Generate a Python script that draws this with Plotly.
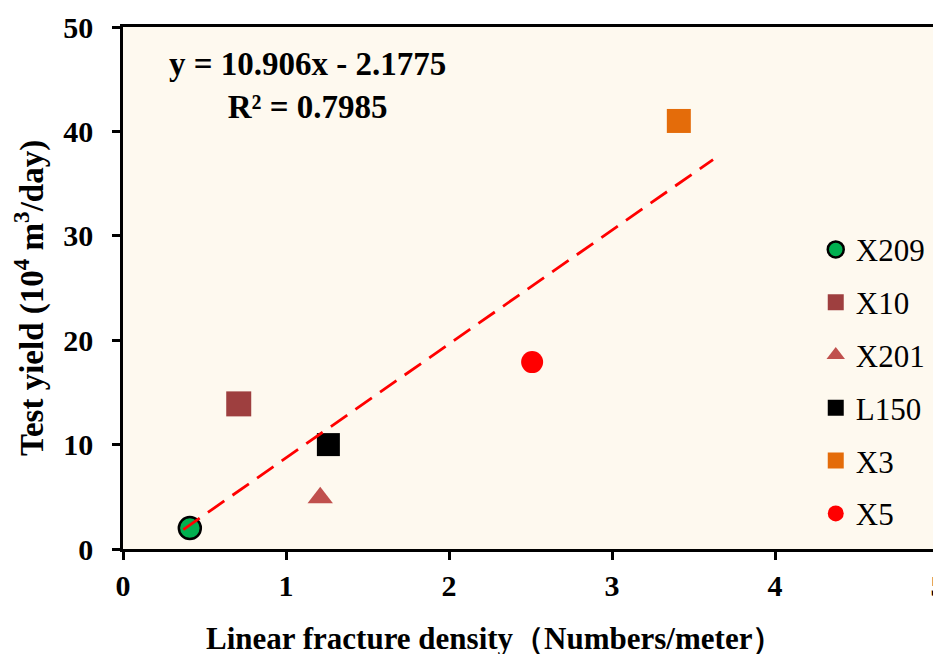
import plotly.graph_objects as go

wells = ["X209", "X10", "X201", "L150", "X3", "X5"]
density = [0.41, 0.71, 1.21, 1.26, 3.41, 2.51]
yield_ = [2.0, 13.9, 4.9, 10.0, 41.0, 17.9]
symbols = ["circle", "square", "triangle-up", "square", "square", "circle"]
colors = ["#00B050", "#9E3F3F", "#C0504D", "#000000", "#E46C0A", "#FF0000"]
sizes = [22, 25, 22, 23, 24, 22]
outline = [2.5, 0, 0, 0, 0, 0]

slope = 10.906
intercept = -2.1775
trend_x = [0.37, 3.62]

x_title = "<b>Linear fracture density（Numbers/meter）</b>"
y_title = "<b>Test yield (10<sup>4</sup> m<sup>3</sup>/day)</b>"
fit_text = "<b>y = 10.906x - 2.1775</b><br><b>R² = 0.7985</b>"

FONT = "Liberation Serif, Times New Roman, serif"

fig = go.Figure()
for i, w in enumerate(wells):
    fig.add_trace(go.Scatter(
        x=[density[i]], y=[yield_[i]], mode="markers", name=w,
        legendgroup=w,
        marker=dict(symbol=symbols[i], color=colors[i], size=sizes[i],
                    line=dict(color="black", width=outline[i])),
    ))

fig.add_trace(go.Scatter(
    x=trend_x, y=[slope * v + intercept for v in trend_x], mode="lines",
    line=dict(color="#FF0000", width=2.8, dash="20px,10px"), showlegend=False,
))

fig.add_annotation(
    x=0.226, y=0.887, xref="paper", yref="paper", showarrow=False,
    xanchor="center", yanchor="middle", text=fit_text,
    font=dict(family=FONT, size=33, color="black"), align="center",
)
# axis titles placed as annotations (off-centre as in the reference)
fig.add_annotation(
    x=-0.114, y=0.481, xref="paper", yref="paper", showarrow=False,
    xanchor="center", yanchor="middle", textangle=-90, text=y_title,
    font=dict(family=FONT, size=33, color="black"),
)
fig.add_annotation(
    x=0.456, y=-0.171, xref="paper", yref="paper", showarrow=False,
    xanchor="center", yanchor="middle", text=x_title,
    font=dict(family=FONT, size=31, color="black"),
)

axis_common = dict(
    showgrid=False, zeroline=False, showline=True, linecolor="black",
    linewidth=2.5, mirror=True, ticks="outside", ticklen=8, tickwidth=2.5,
    tickcolor="black",
    tickfont=dict(family=FONT, size=30, color="black", weight="bold"),
    automargin=False,
)

fig.update_xaxes(range=[0, 5], dtick=1, tickangle=0,
                 ticklabeloverflow="allow", **axis_common)
fig.update_yaxes(range=[0, 50], dtick=10, ticklabelstandoff=13, **axis_common)

# page body has an 8px default margin, so the figure is sized to fit inside it
fig.update_layout(
    width=933, height=646,
    margin=dict(l=115, r=3, t=19, b=105),
    paper_bgcolor="white", plot_bgcolor="#FEF9EF",
    font=dict(family=FONT, color="black"),
    showlegend=True,
    legend=dict(x=0.850, y=0.625, xanchor="left", yanchor="top",
                bgcolor="rgba(0,0,0,0)", tracegroupgap=9.5,
                font=dict(family=FONT, size=31, color="black"),
                itemwidth=30),
)

fig.write_html("out.html")
